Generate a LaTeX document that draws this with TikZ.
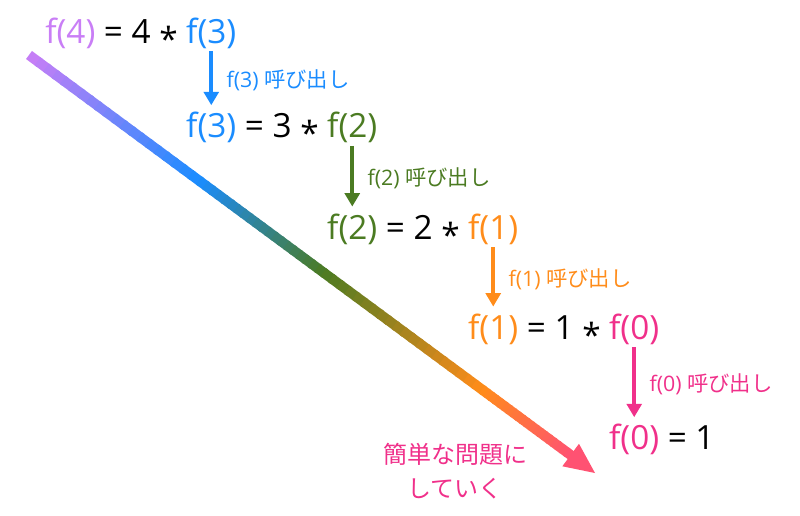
\documentclass[tikz,border=0pt]{standalone}
\usepackage{fontspec}
\setmainfont{Open Sans}
\newfontfamily\jp{Noto Sans CJK JP}
\usetikzlibrary{arrows.meta,calc}

\definecolor{fpurple}{HTML}{C97EF6}
\definecolor{fblue}{HTML}{1A8CFF}
\definecolor{fgreen}{HTML}{4B7B22}
\definecolor{forange}{HTML}{FF8C1A}
\definecolor{fpink}{HTML}{F0308A}
\definecolor{fred}{HTML}{FF5272}

\newcommand{\mul}{\raisebox{-0.24em}{*}}

\tikzset{
    eq/.style={inner sep=0pt, anchor=base west, font=\fontsize{25}{30}\selectfont},
    callarr/.style={-{Triangle[width=11pt,length=10pt]}, line width=3pt},
    calllbl/.style={right=10pt, inner sep=0pt, font=\fontsize{16}{19}\selectfont}
}

\begin{document}
\begin{tikzpicture}[x=0.75pt, y=-0.75pt]
    \useasboundingbox (0,0) rectangle (800,515);

    % Rainbow arrow (drawn in short pieces)
    \coordinate (gs) at (29,55);
    \coordinate (ge) at (595,473);
    \coordinate (hb) at ($(gs)!0.957!(ge)$);
    \foreach \ca/\cb/\ta/\tb in {fpurple/fblue/0/0.3, fblue/fgreen/0.3/0.52, fgreen/forange/0.52/0.8, forange/fred/0.8/0.957}{
        \foreach \k in {0,...,19}{
            \pgfmathsetmacro\pa{\ta+(\tb-\ta)*\k/20}
            \pgfmathsetmacro\pb{\ta+(\tb-\ta)*(\k+1.3)/20}
            \pgfmathsetmacro\mix{97.5-5*\k}
            \draw[line width=7.5pt, color=\ca!\mix!\cb] ($(gs)!\pa!(ge)$) -- ($(gs)!\pb!(ge)$);
        }
    }
    \fill[fred] (ge) -- ($(hb)!10.5pt!90:(ge)$) -- ($(hb)!10.5pt!-90:(ge)$) -- cycle;

    % Row f(4)
    \node[eq, text=fpurple] (l4) at (45,43) {f(4)};
    \node[eq] (m4) at ([xshift=6pt]l4.base east) {= 4 \mul};
    \node[eq, text=fblue] (c3) at ([xshift=6pt]m4.base east) {f(3)};

    % Row f(3)
    \node[eq, text=fblue] (l3) at ([yshift=-71pt]c3.base west) {f(3)};
    \node[eq] (m3) at ([xshift=6pt]l3.base east) {= 3 \mul};
    \node[eq, text=fgreen] (c2) at ([xshift=6pt]m3.base east) {f(2)};

    % Row f(2)
    \node[eq, text=fgreen] (l2) at ([yshift=-76pt]c2.base west) {f(2)};
    \node[eq] (m2) at ([xshift=6pt]l2.base east) {= 2 \mul};
    \node[eq, text=forange] (c1) at ([xshift=6pt]m2.base east) {f(1)};

    % Row f(1)
    \node[eq, text=forange] (l1) at ([yshift=-75pt]c1.base west) {f(1)};
    \node[eq] (m1) at ([xshift=6pt]l1.base east) {= 1 \mul};
    \node[eq, text=fpink] (c0) at ([xshift=6pt]m1.base east) {f(0)};

    % Row f(0)
    \node[eq, text=fpink] (l0) at ([yshift=-83pt]c0.base west) {f(0)};
    \node[eq] (m0) at ([xshift=6pt]l0.base east) {= 1};

    % Calls
    \draw[callarr, fblue, shorten <=2pt, shorten >=5pt] (c3.south) -- (l3.north)
        node[calllbl, midway] {f(3) {\jp 呼び出し}};
    \draw[callarr, fgreen, shorten <=2pt, shorten >=5pt] (c2.south) -- (l2.north)
        node[calllbl, midway] {f(2) {\jp 呼び出し}};
    \draw[callarr, forange, shorten <=2pt, shorten >=5pt] (c1.south) -- (l1.north)
        node[calllbl, midway] {f(1) {\jp 呼び出し}};
    \draw[callarr, fpink, shorten <=2pt, shorten >=5pt] (c0.south) -- (l0.north)
        node[calllbl, midway] {f(0) {\jp 呼び出し}};

    \node[text=fpink, align=center, font=\jp\fontsize{18}{25}\selectfont] (note) at (455,471) {簡単な問題に\\していく};
\end{tikzpicture}
\end{document}
